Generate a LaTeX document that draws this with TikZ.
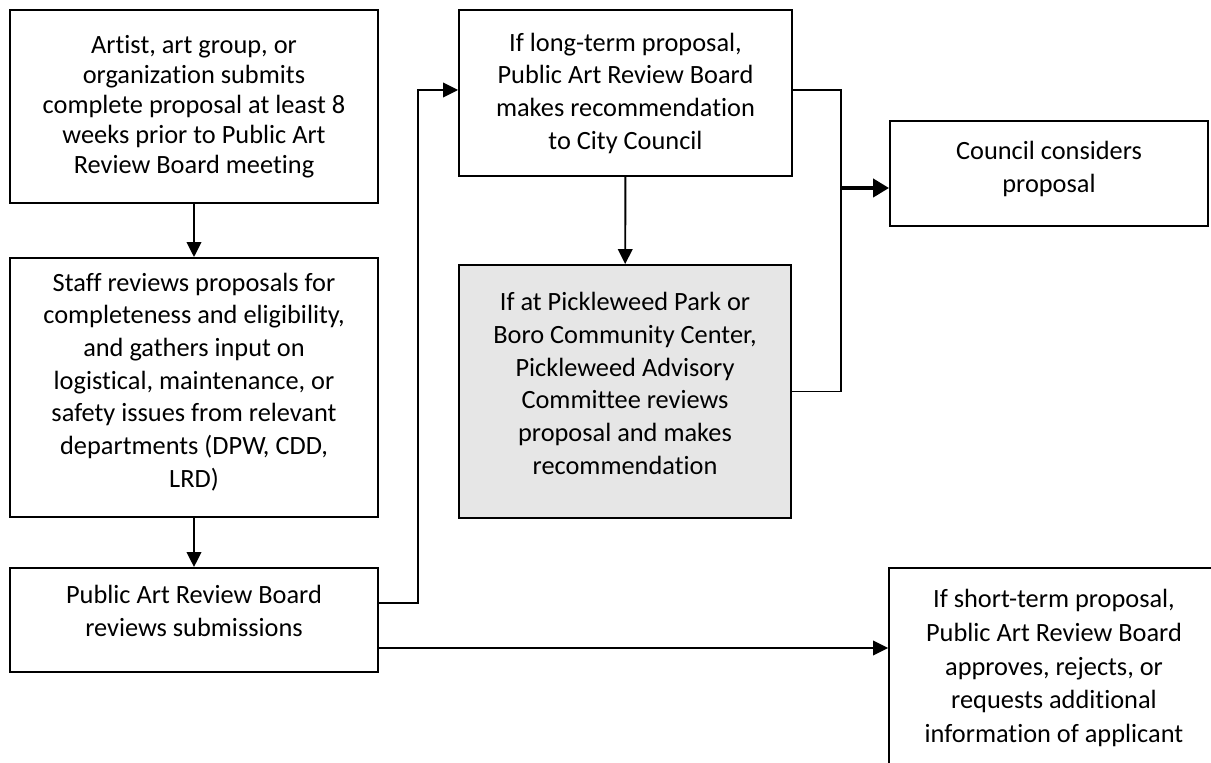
\documentclass[tikz,border=0pt]{standalone}
\usepackage{fontspec}
\setmainfont{Carlito}[Ligatures=NoCommon]
\usetikzlibrary{arrows.meta}
\definecolor{boxgrey}{RGB}{230,230,230}

\begin{document}
\begin{tikzpicture}[x=0.02cm, y=-0.02cm]

  % Styles
  \tikzstyle{boite} = [draw, line width=1.1pt, align=center, inner sep=0pt, font=\fontsize{15}{18.6}\selectfont]
  \tikzstyle{ligne} = [line width=1.1pt]
  \tikzstyle{fleche} = [-{Triangle[length=0.3cm, width=0.29cm]}, line width=1.1pt]
  \tikzstyle{grossefleche} = [-{Triangle[length=0.32cm, width=0.36cm]}, line width=2.8pt]

  % Cadre
  \useasboundingbox (0,0) rectangle (1211,763);
  \clip (0,0) rectangle (1211,763);

  % Boites de gauche
  \node[boite, minimum width=7.36cm, minimum height=3.86cm, font=\fontsize{15}{17.1}\selectfont] (submit) at (194,106.5)
    {Artist, art group, or\\ organization submits\\ complete proposal at least 8\\ weeks prior to Public Art\\ Review Board meeting};
  \node[boite, minimum width=7.36cm, minimum height=5.18cm, text depth=0.3cm] (staff) at (194,387.5)
    {Staff reviews proposals for\\ completeness and eligibility,\\ and gathers input on\\ logistical, maintenance, or\\ safety issues from relevant\\ departments (DPW, CDD,\\ LRD)};
  \node[boite, minimum width=7.36cm, minimum height=2.08cm, text depth=0.36cm] (board) at (194,620)
    {Public Art Review Board\\ reviews submissions};

  % Boites du milieu
  \node[boite, minimum width=6.66cm, minimum height=3.32cm] (longterm) at (625.5,93)
    {If long-term proposal,\\ Public Art Review Board\\ makes recommendation\\ to City Council};
  \node[boite, fill=boxgrey, minimum width=6.64cm, minimum height=5.06cm, text depth=0.32cm] (pickle) at (625,391.5)
    {If at Pickleweed Park or\\ Boro Community Center,\\ Pickleweed Advisory\\ Committee reviews\\ proposal and makes\\ recommendation};

  % Boites de droite
  \node[boite, minimum width=6.36cm, minimum height=2.1cm, text depth=0.26cm] (council) at (1049,173.5)
    {Council considers\\ proposal};
  \node[boite, minimum width=6.6cm, minimum height=4cm, font=\fontsize{15}{19.3}\selectfont] (shortterm) at (1054,668)
    {If short-term proposal,\\ Public Art Review Board\\ approves, rejects, or\\ requests additional\\ information of applicant};

  % Points de passage
  \coordinate (j1) at (418,603);
  \coordinate (j1b) at (418,90);
  \coordinate (j2) at (841,90);
  \coordinate (j3) at (841,188);
  \coordinate (j4) at (600,648);

  % Fleches
  \draw[fleche] (submit) -- (staff);
  \draw[fleche] (staff) -- (board);
  \draw[fleche] (longterm) -- (pickle);
  \draw[fleche] (board.east |- j1) -- (j1) -- (j1b) -- (longterm.west |- j1b);
  \draw[ligne] (longterm.east |- j2) -- (j2) |- (pickle.east);
  \draw[grossefleche] (j3) -- (council.west |- j3);
  \draw[fleche] (board.east |- j4) -- (shortterm.west |- j4);

\end{tikzpicture}
\end{document}
